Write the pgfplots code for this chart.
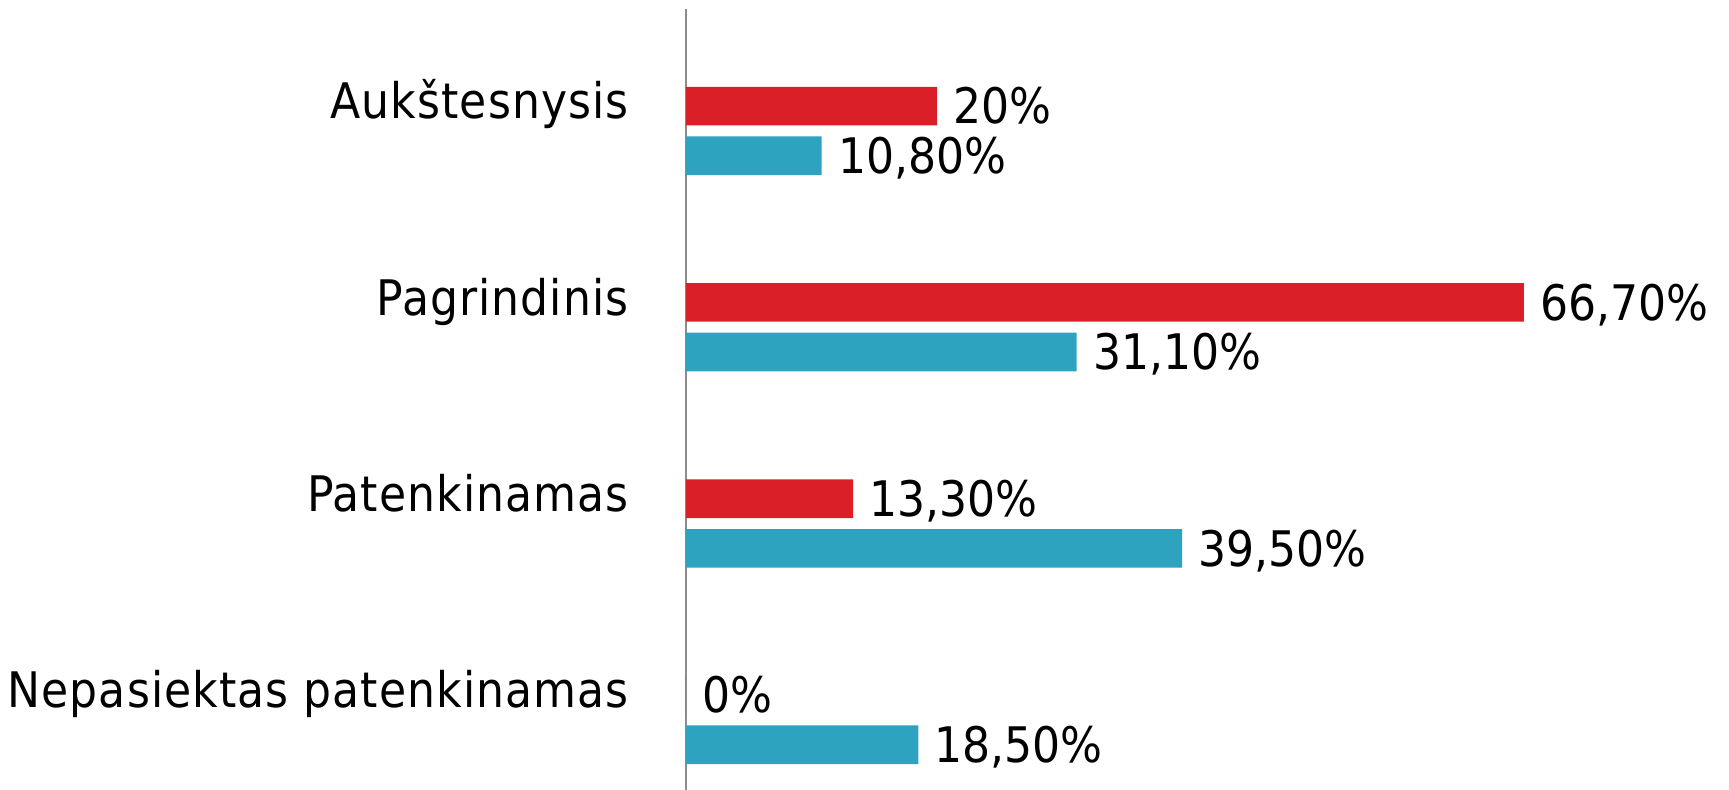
\documentclass[border=0pt]{standalone}
\usepackage{pgfplots}
\pgfplotsset{compat=1.18}
\usepackage{fontspec}
\setmainfont{DejaVu Sans Condensed}
\newfontfamily\catfont[LetterSpace=2.2]{DejaVu Sans Condensed}
\definecolor{barred}{RGB}{218,31,40}
\definecolor{barblue}{RGB}{46,163,192}
\begin{document}
\begin{tikzpicture}
\path[use as bounding box] (0,0) rectangle (864.5pt,395pt);
\begin{axis}[
  at={(343pt,0pt)}, anchor=south west,
  scale only axis, width=521.5pt, height=390.6pt,
  xmin=0, xmax=83.04, ymin=-0.357, ymax=3.622,
  axis x line=none, axis y line=left,
  axis line style={-, draw=black!45, line width=0.8pt},
  xbar, bar width=19.3pt,
  ytick={0,1,2,3},
  yticklabels={Nepasiektas patenkinamas, Patenkinamas, Pagrindinis, Aukštesnysis},
  major tick length=0pt,
  yticklabel style={anchor=base east, inner sep=0pt, xshift=-28.5pt, yshift=6pt, font=\catfont\fontsize{24.5}{29}\selectfont},
  point meta=explicit symbolic,
  nodes near coords,
  every node near coord/.append style={anchor=base west, inner sep=0pt, xshift=8pt, yshift=-8.9pt, font=\fontsize{24.5}{29}\selectfont, text=black},
  clip=false,
]
\addplot[fill=barred, draw=none, bar shift=12.4pt] coordinates {(20,3) [20\%] (66.7,2) [66,70\%] (13.3,1) [13,30\%] (0,0) [0\%]};
\addplot[fill=barblue, draw=none, bar shift=-12.4pt] coordinates {(10.8,3) [10,80\%] (31.1,2) [31,10\%] (39.5,1) [39,50\%] (18.5,0) [18,50\%]};
\end{axis}
\end{tikzpicture}
\end{document}
